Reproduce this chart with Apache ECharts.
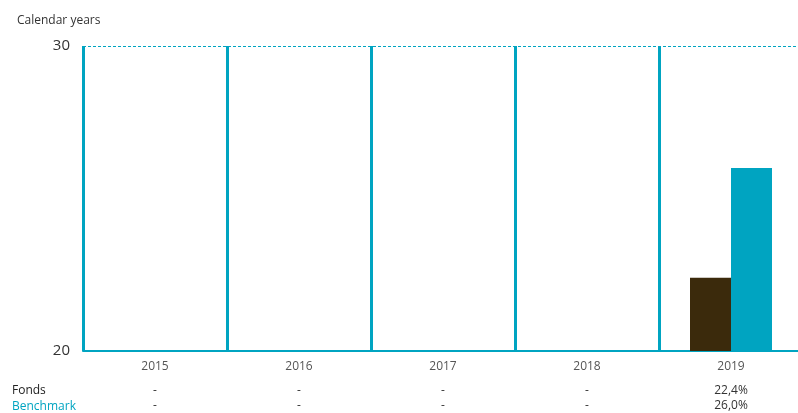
<!DOCTYPE html>
<html>
<head>
<meta charset="utf-8">
<script src="https://cdn.jsdelivr.net/npm/echarts@6/dist/echarts.min.js"></script>
<style>html,body{margin:0;padding:0;background:#fff}#c{width:798px;height:413px}</style>
</head>
<body>
<div id="c"></div>
<script>
var categories = ['2015', '2016', '2017', '2018', '2019'];
var fondsValues = ['-', '-', '-', '-', 22.4];
var benchmarkValues = ['-', '-', '-', '-', 26.0];
var fondsLabels = ['-', '-', '-', '-', '22,4%'];
var benchmarkLabels = ['-', '-', '-', '-', '26,0%'];
var yTicks = [20, 30];

var TEAL = '#00a4c1';
var BROWN = '#3b2a0c';
var FONT = 'Open Sans';

var chart = echarts.init(document.getElementById('c'));
function tableAxis(labels, offset, color) {
  return {
    type: 'category', data: categories, position: 'bottom', gridIndex: 0,
    offset: offset,
    axisLine: {show: false}, axisTick: {show: false}, splitLine: {show: false},
    axisLabel: {
      interval: 0, margin: 9, color: color, fontSize: 12, fontFamily: FONT,
      formatter: function (v, i) { return labels[i]; }
    }
  };
}
chart.setOption({
  animation: false,
  textStyle: {fontFamily: FONT},
  title: [
    {text: 'Calendar years', left: 12, top: 10, textStyle: {fontSize: 12, fontWeight: 'normal', color: '#333', fontFamily: FONT}},
    {text: 'Fonds', left: 7, top: 380, textStyle: {fontSize: 12, fontWeight: 'normal', color: '#222', fontFamily: FONT}},
    {text: 'Benchmark', left: 7, top: 396, textStyle: {fontSize: 12, fontWeight: 'normal', color: TEAL, fontFamily: FONT}}
  ],
  grid: {left: 83, top: 46, right: -5, height: 305, containLabel: false, outerBoundsMode: 'none'},
  xAxis: [
    {
      type: 'category', data: categories, position: 'bottom',
      axisLine: {show: true, lineStyle: {color: TEAL, width: 2}},
      axisTick: {show: false},
      splitLine: {show: true, interval: 0, lineStyle: {color: TEAL, width: 3}},
      axisLabel: {interval: 0, margin: 10, color: '#555', fontSize: 12, fontFamily: FONT}
    },
    tableAxis(fondsLabels, 25, '#333'),
    tableAxis(benchmarkLabels, 40, '#333')
  ],
  yAxis: {
    type: 'value', min: yTicks[0], max: yTicks[1], interval: yTicks[1] - yTicks[0],
    axisLine: {show: false}, axisTick: {show: false},
    axisLabel: {margin: 13, color: '#333', fontSize: 15, fontFamily: FONT},
    splitLine: {show: true, lineStyle: {color: TEAL, type: [3, 2], width: 1}}
  },
  series: [
    {name: 'Fonds', type: 'bar', data: fondsValues, barWidth: 41, barGap: '0%', itemStyle: {color: BROWN}},
    {name: 'Benchmark', type: 'bar', data: benchmarkValues, barWidth: 41, barGap: '0%', itemStyle: {color: TEAL}}
  ]
});
</script>
</body>
</html>
